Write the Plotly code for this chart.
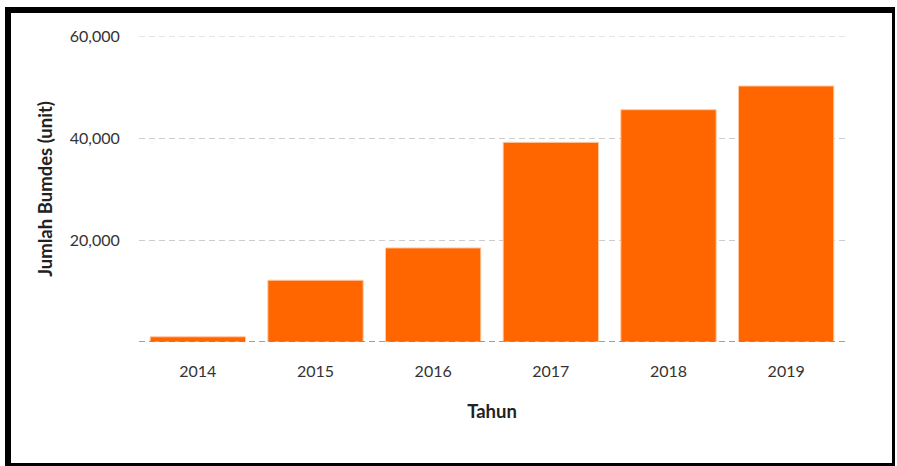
import plotly.graph_objects as go

years = ["2014", "2015", "2016", "2017", "2018", "2019"]
bumdes = [1022, 12115, 18446, 39149, 45549, 50199]
y_tickvals = [0, 20000, 40000, 60000]
y_ticktext = ["", "20,000", "40,000", "60,000"]

W, H = 897, 466
L, R, T, B = 139, 52, 36, 124
pw, ph = W - L - R, H - T - B

def px_x(p):
    return (p - L) / pw

def px_y(p):
    return (H - B - p) / ph

fig = go.Figure(go.Bar(
    x=years, y=bumdes,
    marker=dict(color="#ff6600", line=dict(color="#ffc9a3", width=1)),
    hoverinfo="x+y",
))

shapes = [
    dict(type="line", xref="paper", yref="y", x0=0, x1=1, y0=60000, y1=60000,
         line=dict(color="#cccccc", width=1, dash="6px,4px"), layer="below"),
    dict(type="line", xref="paper", yref="y", x0=0, x1=1, y0=0, y1=0,
         line=dict(color="#808080", width=1.3, dash="6px,4px"), layer="above"),
]
# black frame around the picture
for (x0, x1, y0, y1) in [(5, 11, 7, 466), (5, 895, 7, 13), (892, 895, 7, 466), (5, 895, 463, 466)]:
    shapes.append(dict(type="rect", xref="paper", yref="paper",
                       x0=px_x(x0), x1=px_x(x1), y0=px_y(y1), y1=px_y(y0),
                       fillcolor="black", line=dict(width=0), layer="above"))

fig.update_layout(
    width=W, height=H,
    margin=dict(l=L, r=R, t=T, b=B),
    paper_bgcolor="white", plot_bgcolor="white",
    font=dict(family="Lato, 'Open Sans', sans-serif", size=16, color="#333333"),
    bargap=0.19,
    showlegend=False,
    shapes=shapes,
    xaxis=dict(
        showgrid=False, showline=False, zeroline=False,
        ticks="outside", ticklen=15, tickcolor="rgba(0,0,0,0)",
        tickfont=dict(size=16, color="#333333"),
        title=dict(text="<b>Tahun</b>", font=dict(size=18.5, color="#222222"), standoff=25),
    ),
    yaxis=dict(
        range=[0, 60000],
        tickvals=y_tickvals, ticktext=y_ticktext,
        showgrid=True, gridcolor="#cccccc", griddash="6px,4px", gridwidth=1,
        zeroline=False, showline=False,
        ticks="outside", ticklen=15, tickcolor="rgba(0,0,0,0)",
        tickfont=dict(size=16, color="#333333"),
        title=dict(text="<b>Jumlah Bumdes (unit)</b>", font=dict(size=18.5, color="#222222"), standoff=12),
    ),
)

fig.write_html("out.html", config={"displayModeBar": False},
               post_script="document.body.style.margin='0';document.body.style.overflow='hidden';")
